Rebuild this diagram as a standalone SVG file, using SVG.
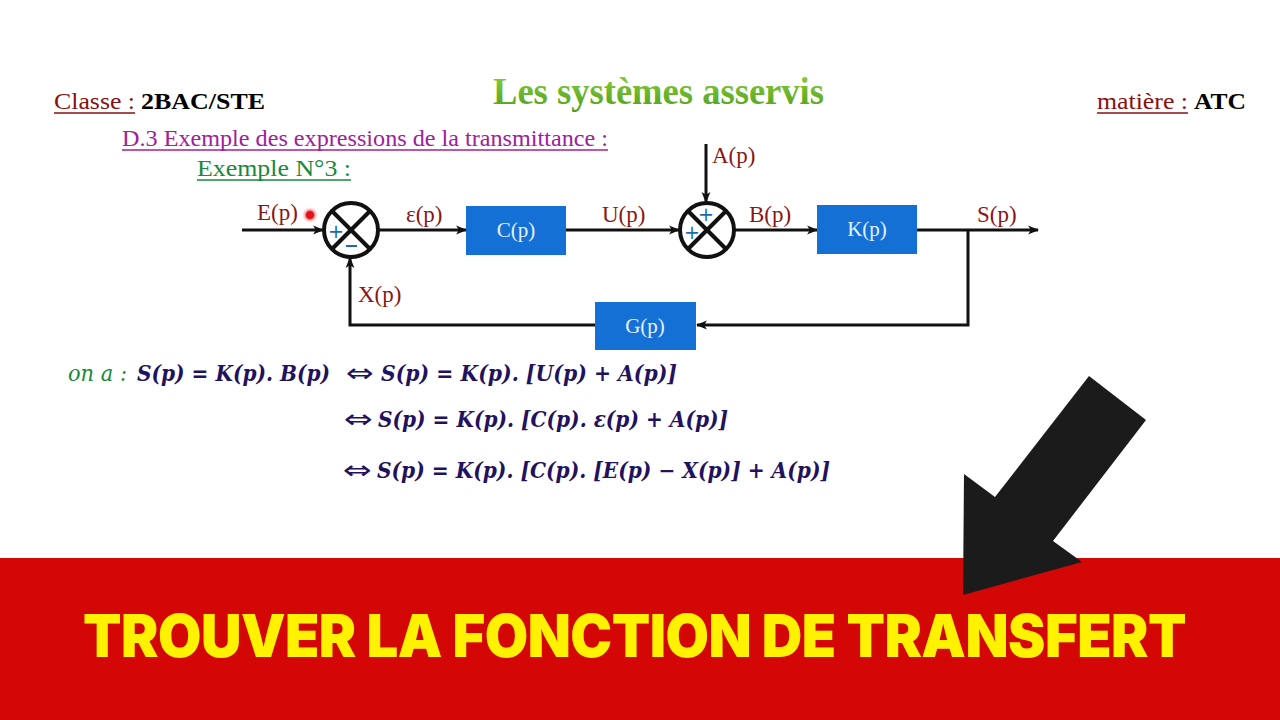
<svg xmlns="http://www.w3.org/2000/svg" width="1280" height="720" viewBox="0 0 1280 720">
  <defs>
    <marker id="ah" viewBox="0 0 10 10" refX="9" refY="5" markerWidth="11" markerHeight="11" markerUnits="userSpaceOnUse" orient="auto">
      <path d="M0,1 L10,5 L0,9 L2.5,5 Z" fill="#111"/>
    </marker>
    <radialGradient id="laser" cx="0.5" cy="0.5" r="0.5">
      <stop offset="0" stop-color="#e0161e"/>
      <stop offset="0.45" stop-color="#e0161e"/>
      <stop offset="0.6" stop-color="#f07070" stop-opacity="0.7"/>
      <stop offset="1" stop-color="#ffb0b0" stop-opacity="0"/>
    </radialGradient>
    <linearGradient id="titleg" x1="0" y1="0" x2="0" y2="1">
      <stop offset="0" stop-color="#8fd33e"/>
      <stop offset="1" stop-color="#4e9e1e"/>
    </linearGradient>
  </defs>
  <style>
    .hdr { font-family: "Liberation Serif", "DejaVu Serif", serif; font-size: 24px; }
    .lbl { font-family: "Liberation Serif", "DejaVu Serif", serif; font-size: 23px; fill: #8a1616; }
    .box { fill: #1570d6; }
    .boxt { font-family: "Liberation Serif", "DejaVu Serif", serif; font-size: 21px; fill: #e4f0ff; text-anchor: middle; }
    .wire { fill: none; stroke: #111; stroke-width: 3; }
    .sum { fill: #fff; stroke: #111; stroke-width: 4; }
    .cross { stroke: #111; stroke-width: 4; }
    .sign { font-family: "DejaVu Sans", sans-serif; font-size: 19px; fill: #1a6ab0; text-anchor: middle; }
    .eq { font-family: "DejaVu Serif", serif; font-size: 22px; font-weight: bold; font-style: italic; fill: #22125e; }
    .iff { font-family: "DejaVu Sans", sans-serif; font-size: 26px; fill: #22125e; }
    .ul { stroke-width: 1.5; }
  </style>

  <rect width="1280" height="720" fill="#ffffff"/>

  <!-- header -->
  <g id="header">
    <text x="54" y="109" class="hdr" fill="#8a1010" textLength="81" lengthAdjust="spacingAndGlyphs">Classe :</text>
    <line x1="54" y1="113" x2="135" y2="113" stroke="#8a1010" class="ul"/>
    <text x="141" y="109" class="hdr" font-weight="bold" fill="#000" textLength="124" lengthAdjust="spacingAndGlyphs">2BAC/STE</text>
    <text x="493" y="104" font-family="Liberation Serif, serif" font-size="38" font-weight="bold" fill="url(#titleg)" textLength="331" lengthAdjust="spacingAndGlyphs">Les systèmes asservis</text>
    <text x="1097" y="109" class="hdr" fill="#8a1010" textLength="91" lengthAdjust="spacingAndGlyphs">matière :</text>
    <line x1="1097" y1="113" x2="1188" y2="113" stroke="#8a1010" class="ul"/>
    <text x="1194" y="109" class="hdr" font-weight="bold" fill="#000" textLength="52" lengthAdjust="spacingAndGlyphs">ATC</text>
    <text x="122" y="146" class="hdr" font-size="21" fill="#a0209a" textLength="486" lengthAdjust="spacingAndGlyphs">D.3  Exemple des expressions de la transmittance  :</text>
    <line x1="122" y1="150" x2="608" y2="150" stroke="#a0209a" class="ul"/>
    <text x="197" y="176" class="hdr" font-size="22" fill="#17893a" textLength="154" lengthAdjust="spacingAndGlyphs">Exemple N°3 :</text>
    <line x1="197" y1="180" x2="351" y2="180" stroke="#17893a" class="ul"/>
  </g>

  <!-- connectors -->
  <g id="connectors">
    <line x1="242" y1="230" x2="323" y2="230" class="wire" marker-end="url(#ah)"/>
    <line x1="379" y1="230" x2="466" y2="230" class="wire" marker-end="url(#ah)"/>
    <line x1="566" y1="230" x2="679" y2="230" class="wire" marker-end="url(#ah)"/>
    <line x1="706" y1="144" x2="706" y2="202" class="wire" marker-end="url(#ah)"/>
    <line x1="735" y1="230" x2="817" y2="230" class="wire" marker-end="url(#ah)"/>
    <line x1="917" y1="230" x2="1038" y2="230" class="wire" marker-end="url(#ah)"/>
    <polyline points="968,230 968,325 697,325" class="wire" marker-end="url(#ah)"/>
    <polyline points="595,325 350,325 350,258" class="wire" marker-end="url(#ah)"/>
  </g>

  <!-- signal labels -->
  <g id="labels">
    <text x="257" y="220" class="lbl">E(p)</text>
    <text x="406" y="222" class="lbl">ε(p)</text>
    <text x="602" y="222" class="lbl">U(p)</text>
    <text x="712" y="163" class="lbl">A(p)</text>
    <text x="749" y="222" class="lbl">B(p)</text>
    <text x="977" y="222" class="lbl">S(p)</text>
    <text x="358" y="302" class="lbl">X(p)</text>
  </g>

  <!-- summer 1 -->
  <g id="sum1">
    <circle cx="351" cy="230" r="27" class="sum"/>
    <line x1="332" y1="211" x2="370" y2="249" class="cross"/>
    <line x1="370" y1="211" x2="332" y2="249" class="cross"/>
    <text x="336" y="238" class="sign">+</text>
    <line x1="346" y1="246" x2="357" y2="246" stroke="#1a6ab0" stroke-width="2"/>
  </g>

  <!-- summer 2 -->
  <g id="sum2">
    <circle cx="707" cy="230" r="27" class="sum"/>
    <line x1="688" y1="211" x2="726" y2="249" class="cross"/>
    <line x1="726" y1="211" x2="688" y2="249" class="cross"/>
    <text x="706" y="221" class="sign">+</text>
    <text x="692" y="239" class="sign">+</text>
  </g>

  <g id="C">
    <rect x="466" y="206" width="100" height="49" class="box"/>
    <text x="516" y="237" class="boxt">C(p)</text>
  </g>
  <g id="K">
    <rect x="817" y="205" width="100" height="49" class="box"/>
    <text x="867" y="236" class="boxt">K(p)</text>
  </g>
  <g id="G">
    <rect x="595" y="302" width="101" height="48" class="box"/>
    <text x="645" y="333" class="boxt">G(p)</text>
  </g>

  <!-- laser pointer dot -->
  <circle cx="310" cy="215" r="8" fill="url(#laser)"/>

  <!-- equations -->
  <g id="equations">
    <text x="68" y="381" font-family="DejaVu Serif, serif" font-size="22" font-style="italic" fill="#17893a" textLength="59" lengthAdjust="spacingAndGlyphs">on a :</text>
    <text x="137" y="381" class="eq" textLength="193" lengthAdjust="spacingAndGlyphs">S(p) = K(p). B(p)</text>
    <text x="346" y="382" class="iff" textLength="28" lengthAdjust="spacingAndGlyphs">⇔</text>
    <text x="381" y="381" class="eq" textLength="296" lengthAdjust="spacingAndGlyphs">S(p) = K(p). [U(p) + A(p)]</text>
    <text x="344" y="428" class="iff" textLength="29" lengthAdjust="spacingAndGlyphs">⇔</text>
    <text x="378" y="427" class="eq" textLength="350" lengthAdjust="spacingAndGlyphs">S(p) = K(p). [C(p). ε(p) + A(p)]</text>
    <text x="343" y="479" class="iff" textLength="29" lengthAdjust="spacingAndGlyphs">⇔</text>
    <text x="377" y="478" class="eq" textLength="453" lengthAdjust="spacingAndGlyphs">S(p) = K(p). [C(p). [E(p) − X(p)] + A(p)]</text>
  </g>

  <!-- banner -->
  <g id="banner">
    <rect x="0" y="558" width="1280" height="162" fill="#d40707"/>
    <text x="83" y="657" font-family="Inter, sans-serif" font-size="59" font-weight="900" fill="#fff200" letter-spacing="-0.5" textLength="1103" lengthAdjust="spacingAndGlyphs">TROUVER LA FONCTION DE TRANSFERT</text>
  </g>

  <!-- big arrow -->
  <g id="bigarrow">
    <polygon points="1089,376 1146,420 1053,541 1082,562 963,595 964,474 995,497" fill="#1b1b1b"/>
  </g>
</svg>
